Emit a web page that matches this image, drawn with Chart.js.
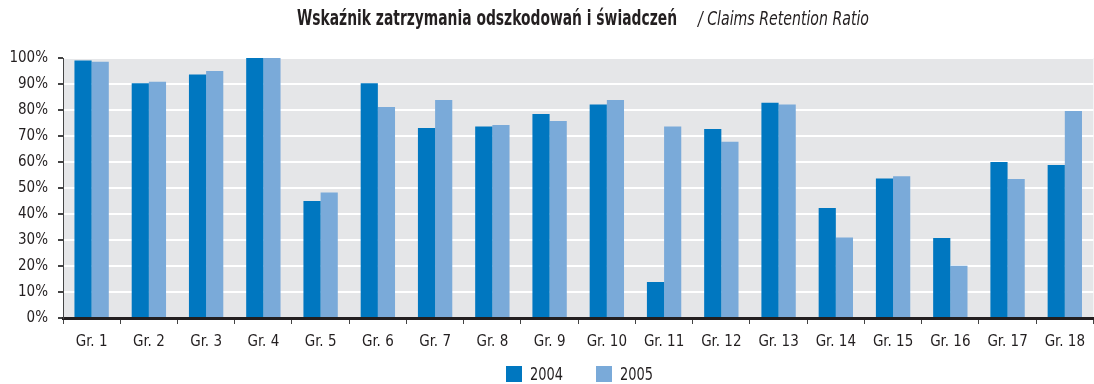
<!DOCTYPE html>
<html>
<head>
<meta charset="utf-8">
<script src="https://cdn.jsdelivr.net/npm/chart.js@4/dist/chart.umd.min.js"></script>
<style>
  html, body { margin: 0; padding: 0; background: #fff; }
  #wrap { width: 1094px; height: 384px; position: relative; }
</style>
</head>
<body>
<div id="wrap"><canvas id="chart"></canvas></div>
<script>
const categories = ["Gr. 1", "Gr. 2", "Gr. 3", "Gr. 4", "Gr. 5", "Gr. 6", "Gr. 7", "Gr. 8", "Gr. 9",
  "Gr. 10", "Gr. 11", "Gr. 12", "Gr. 13", "Gr. 14", "Gr. 15", "Gr. 16", "Gr. 17", "Gr. 18"];
const values2004 = [99.0, 90.3, 93.7, 100, 45.0, 90.3, 73.1, 73.7, 78.5, 82.1, 13.8, 72.7, 82.8, 42.3, 53.7, 30.8, 60.0, 58.8];
const values2005 = [98.6, 90.9, 95.0, 100, 48.3, 81.2, 83.8, 74.2, 75.8, 83.8, 73.7, 67.8, 82.1, 31.0, 54.5, 20.1, 53.5, 79.6];
const seriesNames = ["2004", "2005"];
const titleMain = "Wskaźnik zatrzymania odszkodowań i świadczeń";
const titleSub = "/ Claims Retention Ratio";

const FONT = '"DejaVu Sans Condensed", "Liberation Sans Narrow", "Liberation Sans", sans-serif';
const INK = "#231f20";
const COLORS = ["#0077c0", "#7aaad9"];

// text squeezed horizontally to a target width (condensed look)
function narrowText(ctx, text, x, y, font, width) {
  ctx.font = font;
  const w = ctx.measureText(text).width;
  ctx.save();
  ctx.translate(x, y);
  ctx.scale(width / w, 1);
  ctx.fillText(text, 0, 0);
  ctx.restore();
}

// grey plot background, title and legend drawn by hand
const decor = {
  id: "decor",
  beforeDraw(chart) {
    const { ctx, chartArea: a } = chart;
    ctx.save();
    ctx.fillStyle = "#e5e6e8";
    ctx.fillRect(a.left, a.top, a.right - a.left, a.bottom - a.top);
    ctx.restore();
  },
  afterDraw(chart) {
    const ctx = chart.ctx;
    ctx.save();
    ctx.textBaseline = "middle";
    ctx.fillStyle = INK;
    narrowText(ctx, titleMain, 297, 20, "bold 21px " + FONT, 380);
    narrowText(ctx, titleSub, 698, 20, "italic 20px " + FONT, 171);

    // legend
    const items = [506, 596];
    items.forEach((lx, i) => {
      ctx.fillStyle = COLORS[i];
      ctx.fillRect(lx, 366, 16, 16);
      ctx.fillStyle = INK;
      narrowText(ctx, seriesNames[i], lx + 24, 375, "18px " + FONT, 33);
    });
    ctx.restore();
  }
};

new Chart(document.getElementById("chart"), {
  type: "bar",
  data: {
    labels: categories,
    datasets: [
      { label: seriesNames[0], data: values2004, backgroundColor: COLORS[0] },
      { label: seriesNames[1], data: values2005, backgroundColor: COLORS[1] }
    ]
  },
  options: {
    responsive: true,
    maintainAspectRatio: false,
    animation: false,
    layout: { padding: { top: 58, right: 0, bottom: 34, left: 0 } },
    datasets: { bar: { categoryPercentage: 0.6, barPercentage: 1.0, borderWidth: 0 } },
    plugins: { legend: { display: false }, title: { display: false }, tooltip: { enabled: false } },
    scales: {
      x: {
        offset: true,
        afterFit(s) { s.height = 32; },
        grid: { offset: true, color: "rgba(0,0,0,0)", tickColor: "#444", tickLength: 6, drawOnChartArea: false },
        border: { display: true, color: INK, width: 3 },
        ticks: { color: INK, font: { family: FONT, size: 15 }, padding: 9, maxRotation: 0 }
      },
      y: {
        min: 0,
        max: 100,
        afterFit(s) { s.width = 63; },
        grid: {
          color: (c) => (c.tick && c.tick.value === 0 ? "rgba(0,0,0,0)" : "#ffffff"),
          lineWidth: 2,
          drawTicks: true,
          tickLength: 5,
          tickColor: "#444"
        },
        border: { display: true, color: "#444", width: 1 },
        ticks: {
          stepSize: 10,
          color: INK,
          padding: 10,
          font: { family: FONT, size: 15 },
          callback: (v) => v + "%"
        }
      }
    }
  },
  plugins: [decor]
});
</script>
</body>
</html>
